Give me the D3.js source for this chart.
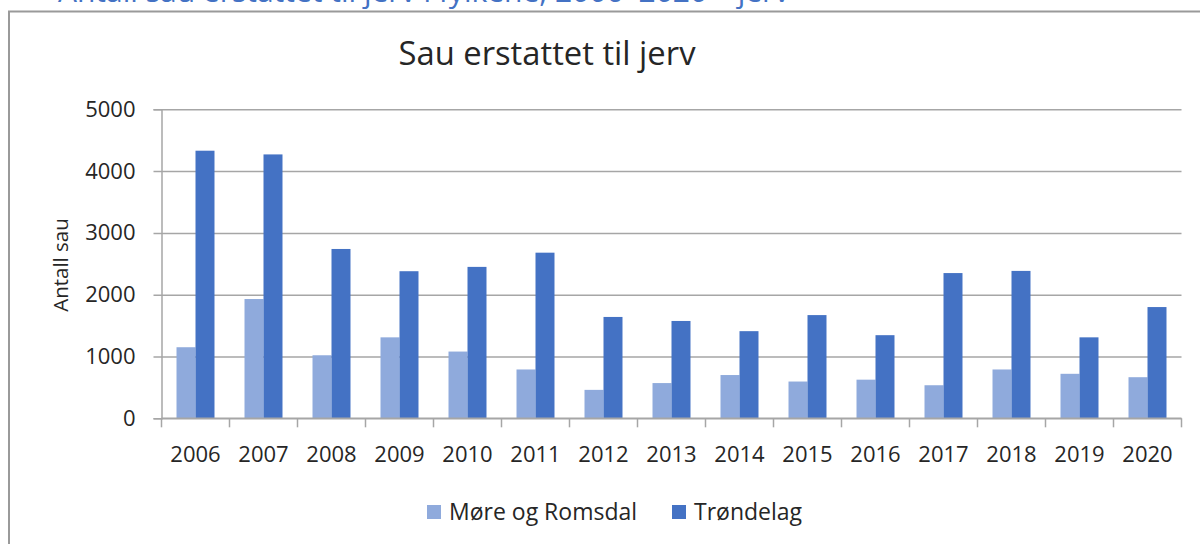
<!DOCTYPE html>
<html>
<head>
<meta charset="utf-8">
<script src="https://cdn.jsdelivr.net/npm/d3@7"></script>
<style>
  html, body { margin: 0; padding: 0; background: #fff; }
  svg { display: block; font-family: "Open Sans", sans-serif; }
</style>
</head>
<body>
<div id="chart"></div>
<script>
// Sheep compensated as lost to wolverine, per county and year.
const years = ["2006", "2007", "2008", "2009", "2010", "2011", "2012", "2013",
  "2014", "2015", "2016", "2017", "2018", "2019", "2020"];
const seriesNames = ["Møre og Romsdal", "Trøndelag"];
const moreRomsdal = [1150, 1930, 1020, 1310, 1080, 790, 460, 570, 700, 595, 625, 535, 790, 720, 665];
const trondelag = [4330, 4270, 2740, 2380, 2450, 2680, 1640, 1575, 1410, 1670, 1345, 2350, 2385, 1310, 1800];
const yTicks = [0, 1000, 2000, 3000, 4000, 5000];

const colors = { "Møre og Romsdal": "#8faadc", "Trøndelag": "#4472c4" };
const W = 1200, H = 544;
const plot = { left: 161.5, right: 1181.5, top: 109.3, bottom: 418.3 };

const rows = years.map((yr, i) => ({ year: yr, values: [moreRomsdal[i], trondelag[i]] }));

const svg = d3.select("#chart").append("svg").attr("width", W).attr("height", H);

// heading of the page above the chart, only its lower edge shows in the crop
svg.append("text")
  .attr("x", 58).attr("y", 2)
  .attr("fill", "#4472c4")
  .attr("font-size", 30)
  .text("Antall sau erstattet til jerv i fylkene, 2006–2020 – jerv");

// chart frame (runs off the right and bottom edges)
svg.append("rect")
  .attr("x", 9).attr("y", 11.5)
  .attr("width", W + 20).attr("height", H + 20)
  .attr("fill", "#fff").attr("stroke", "#9a9a9a").attr("stroke-width", 2);

const x = d3.scaleBand().domain(years).range([plot.left, plot.right]).padding(0);
const xs = d3.scaleBand().domain(seriesNames).range([0, x.bandwidth()])
  .paddingInner(0).paddingOuter(0.79);
const y = d3.scaleLinear().domain([0, 5000]).range([plot.bottom, plot.top]);

// gridlines + y axis
svg.append("g")
  .attr("transform", `translate(${plot.left},0)`)
  .call(d3.axisLeft(y).tickValues(yTicks).tickFormat(d3.format("d")).tickSize(8).tickPadding(18))
  .call(g => g.select(".domain").attr("stroke", "#a6a6a6").attr("stroke-width", 1.5))
  .call(g => g.selectAll(".tick line").attr("stroke", "#a6a6a6").attr("stroke-width", 1.5)
    .attr("x2", plot.right - plot.left).attr("x1", -8))
  .call(g => g.selectAll(".tick text").attr("fill", "#262626").attr("font-size", 22)
    .attr("font-family", "Open Sans, sans-serif"));

// bars
svg.append("g")
  .selectAll("g")
  .data(rows)
  .join("g")
  .attr("transform", d => `translate(${x(d.year)},0)`)
  .selectAll("rect")
  .data(d => d.values.map((v, k) => ({ name: seriesNames[k], v })))
  .join("rect")
  .attr("x", d => xs(d.name))
  .attr("width", xs.bandwidth())
  .attr("y", d => y(d.v))
  .attr("height", d => y(0) - y(d.v))
  .attr("fill", d => colors[d.name]);

// x axis: ticks at category boundaries
const xAxis = svg.append("g").attr("transform", `translate(0,${plot.bottom})`);
xAxis.append("line")
  .attr("x1", plot.left).attr("x2", plot.right)
  .attr("stroke", "#a6a6a6").attr("stroke-width", 1.5);
xAxis.selectAll("line.bound")
  .data(years.concat("end"))
  .join("line")
  .attr("class", "bound")
  .attr("x1", d => d === "end" ? plot.right : x(d))
  .attr("x2", d => d === "end" ? plot.right : x(d))
  .attr("y1", 0).attr("y2", 9)
  .attr("stroke", "#a6a6a6").attr("stroke-width", 1.5);
xAxis.selectAll("text")
  .data(years)
  .join("text")
  .attr("x", d => x(d) + x.bandwidth() / 2)
  .attr("y", 44)
  .attr("text-anchor", "middle")
  .attr("fill", "#262626")
  .attr("font-size", 22)
  .text(d => d);

// y axis title
svg.append("text")
  .attr("transform", `translate(68,265) rotate(-90)`)
  .attr("text-anchor", "middle")
  .attr("fill", "#262626")
  .attr("font-size", 20.5)
  .text("Antall sau");

// chart title
svg.append("text")
  .attr("x", 547).attr("y", 65)
  .attr("text-anchor", "middle")
  .attr("fill", "#262626")
  .attr("font-size", 33)
  .attr("textLength", 297)
  .attr("lengthAdjust", "spacingAndGlyphs")
  .text("Sau erstattet til jerv");

// legend
const legend = svg.append("g").attr("transform", "translate(427,512)");
const items = legend.selectAll("g")
  .data(seriesNames)
  .join("g")
  .attr("transform", (d, i) => `translate(${i === 0 ? 0 : 245},0)`);
items.append("rect")
  .attr("x", 0).attr("y", -7)
  .attr("width", 14).attr("height", 14)
  .attr("fill", d => colors[d]);
items.append("text")
  .attr("x", 22).attr("y", 8)
  .attr("fill", "#262626")
  .attr("font-size", 23)
  .text(d => d);
</script>
</body>
</html>
